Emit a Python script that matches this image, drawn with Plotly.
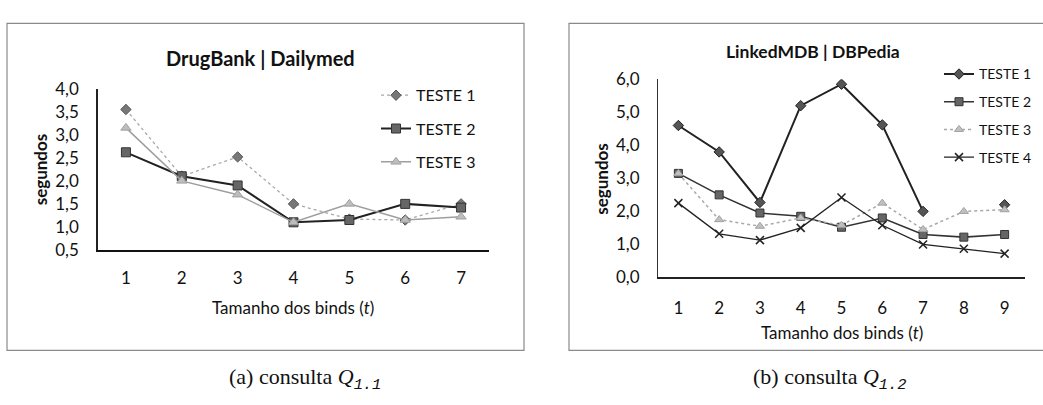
import plotly.graph_objects as go

# ---------------- data ----------------
binds_a = [1, 2, 3, 4, 5, 6, 7]
a_teste1 = [3.55, 2.1, 2.52, 1.5, 1.17, 1.15, 1.5]
a_teste2 = [2.62, 2.1, 1.9, 1.1, 1.15, 1.5, 1.42]
a_teste3 = [3.15, 2.0, 1.7, 1.1, 1.5, 1.15, 1.22]

binds_b = [1, 2, 3, 4, 5, 6, 7, 8, 9]
b_teste1 = [4.6, 3.8, 2.27, 5.2, 5.85, 4.62, 2.0, None, 2.2]
b_teste2 = [3.15, 2.5, 1.95, 1.85, 1.52, 1.8, 1.3, 1.22, 1.3]
b_teste3 = [3.15, 1.75, 1.55, 1.8, 1.58, 2.25, 1.45, 2.0, 2.05]
b_teste4 = [2.25, 1.32, 1.13, 1.5, 2.42, 1.58, 1.0, 0.87, 0.72]

series_names = ["TESTE 1", "TESTE 2", "TESTE 3", "TESTE 4"]
yticks_a = [0.5, 1.0, 1.5, 2.0, 2.5, 3.0, 3.5, 4.0]
yticks_b = [0, 1, 2, 3, 4, 5, 6]

W, H = 1043, 405
FONT = "Lato"


def px(x):
    return x / W


def py(y):
    return 1 - y / H


fig = go.Figure()

# ---- chart (a): DrugBank | Dailymed ----
styles_a = [
    dict(line=dict(color="#a8a8a8", width=1.3, dash="dot"),
         marker=dict(symbol="diamond", size=8, color="#777777",
                     line=dict(color="#555555", width=1))),
    dict(line=dict(color="#222222", width=2),
         marker=dict(symbol="square", size=9, color="#666666",
                     line=dict(color="#333333", width=1))),
    dict(line=dict(color="#9e9e9e", width=1.5),
         marker=dict(symbol="triangle-up", size=9, color="#bdbdbd",
                     line=dict(color="#a0a0a0", width=1))),
]
for name, ys, st in zip(series_names, [a_teste1, a_teste2, a_teste3], styles_a):
    fig.add_trace(go.Scatter(x=binds_a, y=ys, name=name, mode="lines+markers",
                             xaxis="x", yaxis="y", legend="legend",
                             legendgroup="a" + name, **st))

# ---- chart (b): LinkedMDB | DBPedia ----
styles_b = [
    dict(line=dict(color="#222222", width=2),
         marker=dict(symbol="diamond", size=8, color="#555555",
                     line=dict(color="#222222", width=1))),
    dict(line=dict(color="#333333", width=1.6),
         marker=dict(symbol="square", size=8, color="#666666",
                     line=dict(color="#333333", width=1))),
    dict(line=dict(color="#a8a8a8", width=1.5, dash="dot"),
         marker=dict(symbol="triangle-up", size=8, color="#c0c0c0",
                     line=dict(color="#a0a0a0", width=1))),
    dict(line=dict(color="#222222", width=1.3),
         marker=dict(symbol="x-thin", size=8, color="#222222",
                     line=dict(color="#222222", width=1.5))),
]
for name, ys, st in zip(series_names, [b_teste1, b_teste2, b_teste3, b_teste4], styles_b):
    fig.add_trace(go.Scatter(x=binds_b, y=ys, name=name, mode="lines+markers",
                             xaxis="x2", yaxis="y2", legend="legend2",
                             legendgroup="b" + name, connectgaps=False, **st))

tick_font = dict(family=FONT, size=17, color="#111111")

fig.update_layout(
    width=W, height=H,
    margin=dict(l=0, r=0, t=0, b=0),
    paper_bgcolor="white", plot_bgcolor="white",
    separators=", ",
    font=dict(family=FONT, color="#111111"),
    xaxis=dict(domain=[px(98), px(489)], range=[0.5, 7.5], tickvals=binds_a,
               showline=True, linecolor="#111111", linewidth=2, showgrid=False,
               zeroline=False, ticks="", tickfont=tick_font, anchor="y",
               ticklabelstandoff=12),
    yaxis=dict(domain=[py(252), py(82)], range=[0.5, 4.0], tickvals=yticks_a,
               tickformat=".1f", showline=True, linecolor="#222222", linewidth=1.5,
               showgrid=False, zeroline=False, ticks="", tickfont=tick_font,
               anchor="x", ticklabelstandoff=14),
    xaxis2=dict(domain=[px(658), px(1025)], range=[0.5, 9.5], tickvals=binds_b,
                showline=True, linecolor="#222222", linewidth=1.5, showgrid=False,
                zeroline=False, ticks="", tickfont=tick_font, anchor="y2",
                ticklabelstandoff=14),
    yaxis2=dict(domain=[py(281), py(72)], range=[0, 6], tickvals=yticks_b,
                tickformat=".1f", showline=True, linecolor="#333333", linewidth=1.2,
                showgrid=False, zeroline=False, ticks="", tickfont=tick_font,
                anchor="x2", ticklabelstandoff=14),
    legend=dict(x=px(376), y=py(71), xanchor="left", yanchor="top",
                font=dict(family=FONT, size=16, color="#111111"),
                bgcolor="rgba(0,0,0,0)", tracegroupgap=9.5, itemclick=False),
    legend2=dict(x=px(939), y=py(50), xanchor="left", yanchor="top",
                 font=dict(family=FONT, size=14, color="#111111"),
                 bgcolor="rgba(0,0,0,0)", tracegroupgap=6.5, itemclick=False),
    showlegend=True,
)

# frames around each chart
frame = dict(type="rect", xref="paper", yref="paper",
             line=dict(color="#8a8a8a", width=1.2), fillcolor="rgba(0,0,0,0)")
fig.add_shape(x0=px(7), x1=px(524), y0=py(358), y1=py(13), **frame)
fig.add_shape(x0=px(569), x1=px(1046), y0=py(358), y1=py(13), **frame)

# titles, axis titles and captions
mono_sub = "<sub><i><span style='font-family:Liberation Mono'>{}</span></i></sub>"
ann = []
ann.append(dict(text="<b>DrugBank | Dailymed</b>", x=px(260), y=py(50),
                font=dict(family=FONT, size=20, color="#111111")))
ann.append(dict(text="<b>LinkedMDB | DBPedia</b>", x=px(813), y=py(43),
                font=dict(family=FONT, size=17.5, color="#111111")))
ann.append(dict(text="<b>segundos</b>", x=px(40), y=py(167), textangle=-90,
                font=dict(family=FONT, size=17, color="#111111")))
ann.append(dict(text="<b>segundos</b>", x=px(602), y=py(177), textangle=-90,
                font=dict(family=FONT, size=17, color="#111111")))
ann.append(dict(text="Tamanho dos binds (<i>t</i>)", x=px(293), y=py(313),
                font=dict(family=FONT, size=17, color="#111111")))
ann.append(dict(text="Tamanho dos binds (<i>t</i>)", x=px(842), y=py(339),
                font=dict(family=FONT, size=17, color="#111111")))
ann.append(dict(text="(a) consulta <i>Q</i>" + mono_sub.format("1.1"), x=px(305), y=py(388),
                font=dict(family="Liberation Serif", size=22, color="#111111")))
ann.append(dict(text="(b) consulta <i>Q</i>" + mono_sub.format("1.2"), x=px(830), y=py(388),
                font=dict(family="Liberation Serif", size=22, color="#111111")))
for a in ann:
    fig.add_annotation(xref="paper", yref="paper", showarrow=False,
                       xanchor="center", yanchor="middle", **a)

fig.write_html("out.html")
